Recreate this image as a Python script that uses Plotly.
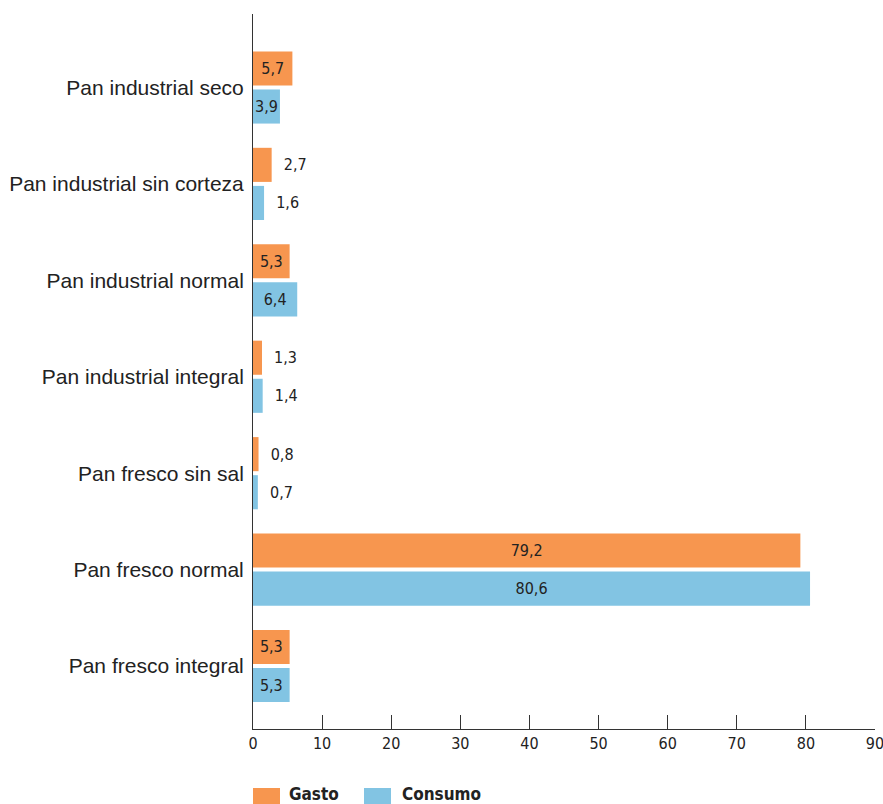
import plotly.graph_objects as go

categories = ["Pan fresco integral", "Pan fresco normal", "Pan fresco sin sal",
              "Pan industrial integral", "Pan industrial normal",
              "Pan industrial sin corteza", "Pan industrial seco"]
gasto = [5.3, 79.2, 0.8, 1.3, 5.3, 2.7, 5.7]
consumo = [5.3, 80.6, 0.7, 1.4, 6.4, 1.6, 3.9]
x_ticks = [0, 10, 20, 30, 40, 50, 60, 70, 80, 90]
series_names = ["Gasto", "Consumo"]

ORANGE = "#F7964F"
BLUE = "#82C4E3"
TXT = "#222222"
NUMFONT = "DejaVu Sans Condensed, sans-serif"

W, H = 883, 804
ML, MR, MT, MB = 253, 8, 14, 75
PW, PH = W - ML - MR, H - MT - MB


def fmt(v):
    return f"{v:.1f}".replace(".", ",")


def positions(vals):
    return ["inside" if v >= 3 else "outside" for v in vals]


def texts(vals):
    return [fmt(v) if v >= 3 else "  " + fmt(v) for v in vals]


fig = go.Figure()
for name, vals, col in [("Consumo", consumo, BLUE), ("Gasto", gasto, ORANGE)]:
    fig.add_trace(go.Bar(
        y=categories, x=vals, name=name, orientation="h",
        marker=dict(color=col, line=dict(width=0)),
        text=texts(vals), textposition=positions(vals),
        insidetextanchor="middle", textangle=0,
        textfont=dict(family=NUMFONT, size=16, color=TXT),
        insidetextfont=dict(family=NUMFONT, size=16, color=TXT),
        outsidetextfont=dict(family=NUMFONT, size=16, color=TXT),
        cliponaxis=False, hoverinfo="skip", showlegend=False,
    ))


# legend drawn as swatches + labels below the plot (paper coordinates from pixels)
def px_x(px):
    return (px - ML) / PW


def px_y(py):
    return (H - MB - py) / PH


legend_items = [(series_names[0], ORANGE, 253, 287), (series_names[1], BLUE, 364, 400)]
for label, col, sx, tx in legend_items:
    fig.add_shape(type="rect", xref="paper", yref="paper",
                  x0=px_x(sx), x1=px_x(sx + 27), y0=px_y(804), y1=px_y(788),
                  fillcolor=col, line=dict(width=0))
    fig.add_annotation(text=label, xref="paper", yref="paper",
                       x=px_x(tx), y=px_y(794), xanchor="left", yanchor="middle",
                       showarrow=False,
                       font=dict(family=NUMFONT, size=17, color=TXT, weight="bold"))

fig.update_layout(
    width=W, height=H,
    margin=dict(l=ML, r=MR, t=MT, b=MB, autoexpand=False),
    paper_bgcolor="white", plot_bgcolor="white",
    barmode="group", bargap=0.21, bargroupgap=0.105,
    uniformtext=dict(minsize=16, mode="show"),
    showlegend=False,
    xaxis=dict(range=[0, 90], tickvals=x_ticks, ticktext=[str(t) for t in x_ticks],
               showgrid=False, zeroline=False, showline=True,
               linecolor="#333333", linewidth=1,
               ticks="inside", ticklen=14, tickcolor="#333333", tickwidth=1,
               tickfont=dict(family=NUMFONT, size=16, color=TXT),
               ticklabeloverflow="allow",
               fixedrange=True),
    yaxis=dict(range=[-0.653, 6.762], showgrid=False, zeroline=False,
               showline=True, linecolor="#333333", linewidth=1,
               ticks="", ticklabelstandoff=4,
               tickfont=dict(family="Liberation Sans, Arial, sans-serif", size=21, color=TXT),
               fixedrange=True),
)

fig.write_html("out.html")
